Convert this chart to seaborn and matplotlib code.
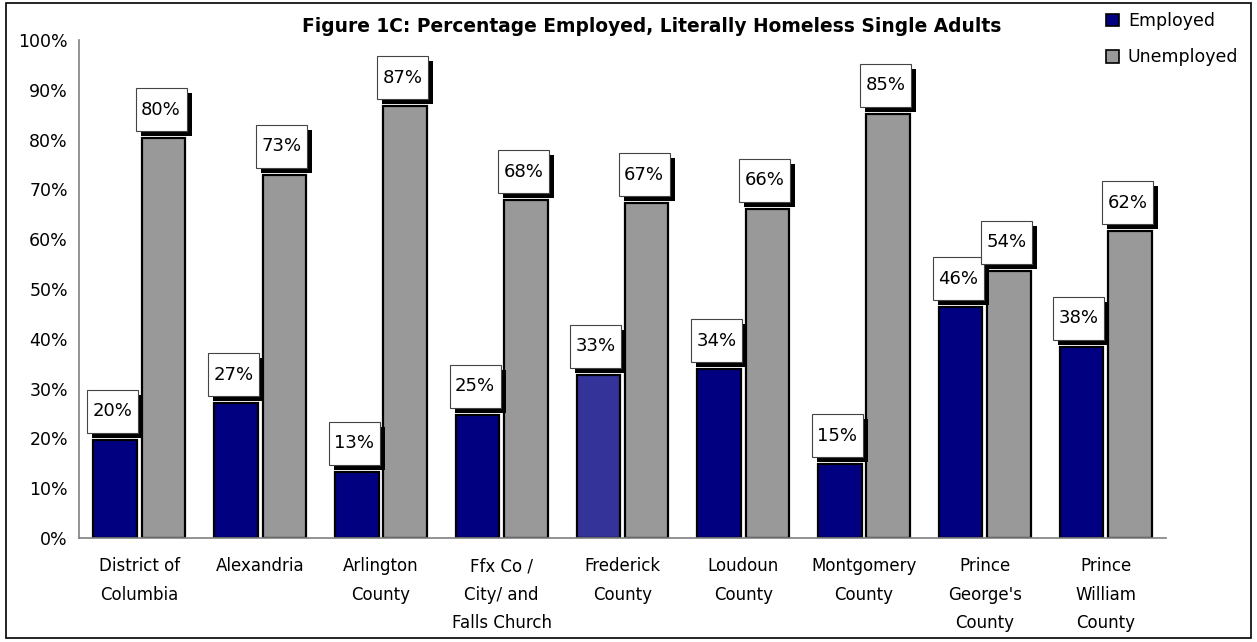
import numpy as np
import pandas as pd
import seaborn as sns
import matplotlib
matplotlib.use("Agg")
import matplotlib.pyplot as plt
from matplotlib.patches import Rectangle, Patch
from matplotlib.transforms import ScaledTranslation

counties = ["District of\nColumbia", "Alexandria", "Arlington\nCounty",
            "Ffx Co /\nCity/ and\nFalls Church", "Frederick\nCounty", "Loudoun\nCounty",
            "Montgomery\nCounty", "Prince\nGeorge's\nCounty", "Prince\nWilliam\nCounty"]
employed = [19.7, 27.1, 13.3, 24.7, 32.8, 33.9, 14.8, 46.3, 38.4]
unemployed = [80.3, 72.9, 86.7, 67.8, 67.2, 66.1, 85.2, 53.7, 61.6]
series = ["Employed", "Unemployed"]
yticks = list(range(0, 101, 10))
title = "Figure 1C: Percentage Employed, Literally Homeless Single Adults"

colors = {"Employed": "#000080", "Unemployed": "#999999"}
frederick_color = "#333399"

sns.set_style("white")
plt.rcParams["font.family"] = ["DejaVu Sans"]
plt.rcParams["text.color"] = "black"
plt.rcParams["xtick.color"] = "black"
plt.rcParams["ytick.color"] = "black"
plt.rcParams["axes.labelcolor"] = "black"

df = pd.DataFrame({
    "County": counties * 2,
    "Status": ["Employed"] * len(counties) + ["Unemployed"] * len(counties),
    "Pct": employed + unemployed,
})

fig = plt.figure(figsize=(12.57, 6.42), dpi=100)
ax = fig.add_axes([79 / 1257, 1 - 538 / 642, (1166 - 79) / 1257, (538 - 40) / 642])

sns.barplot(data=df, x="County", y="Pct", hue="Status", hue_order=series,
            palette=colors, width=0.8, gap=0.1, edgecolor="black", linewidth=1.6,
            ax=ax, legend=False, errorbar=None, saturation=1)

# Frederick employed bar has a lighter blue
ax.containers[0][4].set_facecolor(frederick_color)

ax.set_xlim(-0.5, len(counties) - 0.5)
ax.set_ylim(0, 100)
ax.set_xlabel("")
ax.set_ylabel("")
ax.set_yticks(yticks)
ax.set_yticklabels([f"{t}%" for t in yticks], fontsize=12.5, color="black")
ax.tick_params(axis="y", length=5, color="#808080", direction="out", pad=3)
ax.set_xticks(range(len(counties)))
ax.set_xticklabels(counties, fontsize=12, linespacing=1.72, color="black")
ax.tick_params(axis="x", which="major", length=0, pad=14)
ax.set_xticks(np.arange(-0.5, len(counties), 1), minor=True)
ax.tick_params(axis="x", which="minor", length=6, color="#808080", direction="out")
for s in ["top", "right"]:
    ax.spines[s].set_visible(False)
for s in ["left", "bottom"]:
    ax.spines[s].set_color("#808080")
    ax.spines[s].set_linewidth(1.2)
ax.grid(False)

# Data label boxes with drop shadow
bw, bh, off_x, off_y, sh = 51, 43, -28, 7, 5
for cont in ax.containers:
    for bar in cont:
        x = bar.get_x() + bar.get_width() / 2
        v = bar.get_height()
        tr = ScaledTranslation(x, v, ax.transData)
        ax.add_patch(Rectangle((off_x + sh, off_y - sh), bw, bh, transform=tr,
                               facecolor="black", edgecolor="black", lw=0,
                               zorder=4, clip_on=False))
        ax.add_patch(Rectangle((off_x, off_y), bw, bh, transform=tr,
                               facecolor="white", edgecolor="#444444", lw=0.8,
                               zorder=5, clip_on=False))
        ax.text(off_x + bw / 2, off_y + bh / 2, f"{round(v)}%", transform=tr,
                ha="center", va="center", fontsize=13, color="black",
                zorder=6, clip_on=False)

fig.text(652 / 1257, 1 - 26 / 642, title, ha="center", va="center",
         fontsize=13.4, fontweight="bold", color="black")

handles = [Patch(facecolor=colors[s], edgecolor="black", lw=1.2) for s in series]
fig.legend(handles, series, loc="upper left", bbox_to_anchor=(1094 / 1257, 1 - 0 / 642),
           frameon=False, fontsize=12.5, handlelength=0.75, handleheight=0.75,
           handletextpad=0.5, labelspacing=1.05, borderpad=0.2)

fig.patches.append(Rectangle((6 / 1257, 4 / 642), 1245 / 1257, 635 / 642,
                             transform=fig.transFigure, fill=False,
                             edgecolor="black", lw=1.2))

fig.savefig("out.png", dpi=100)
